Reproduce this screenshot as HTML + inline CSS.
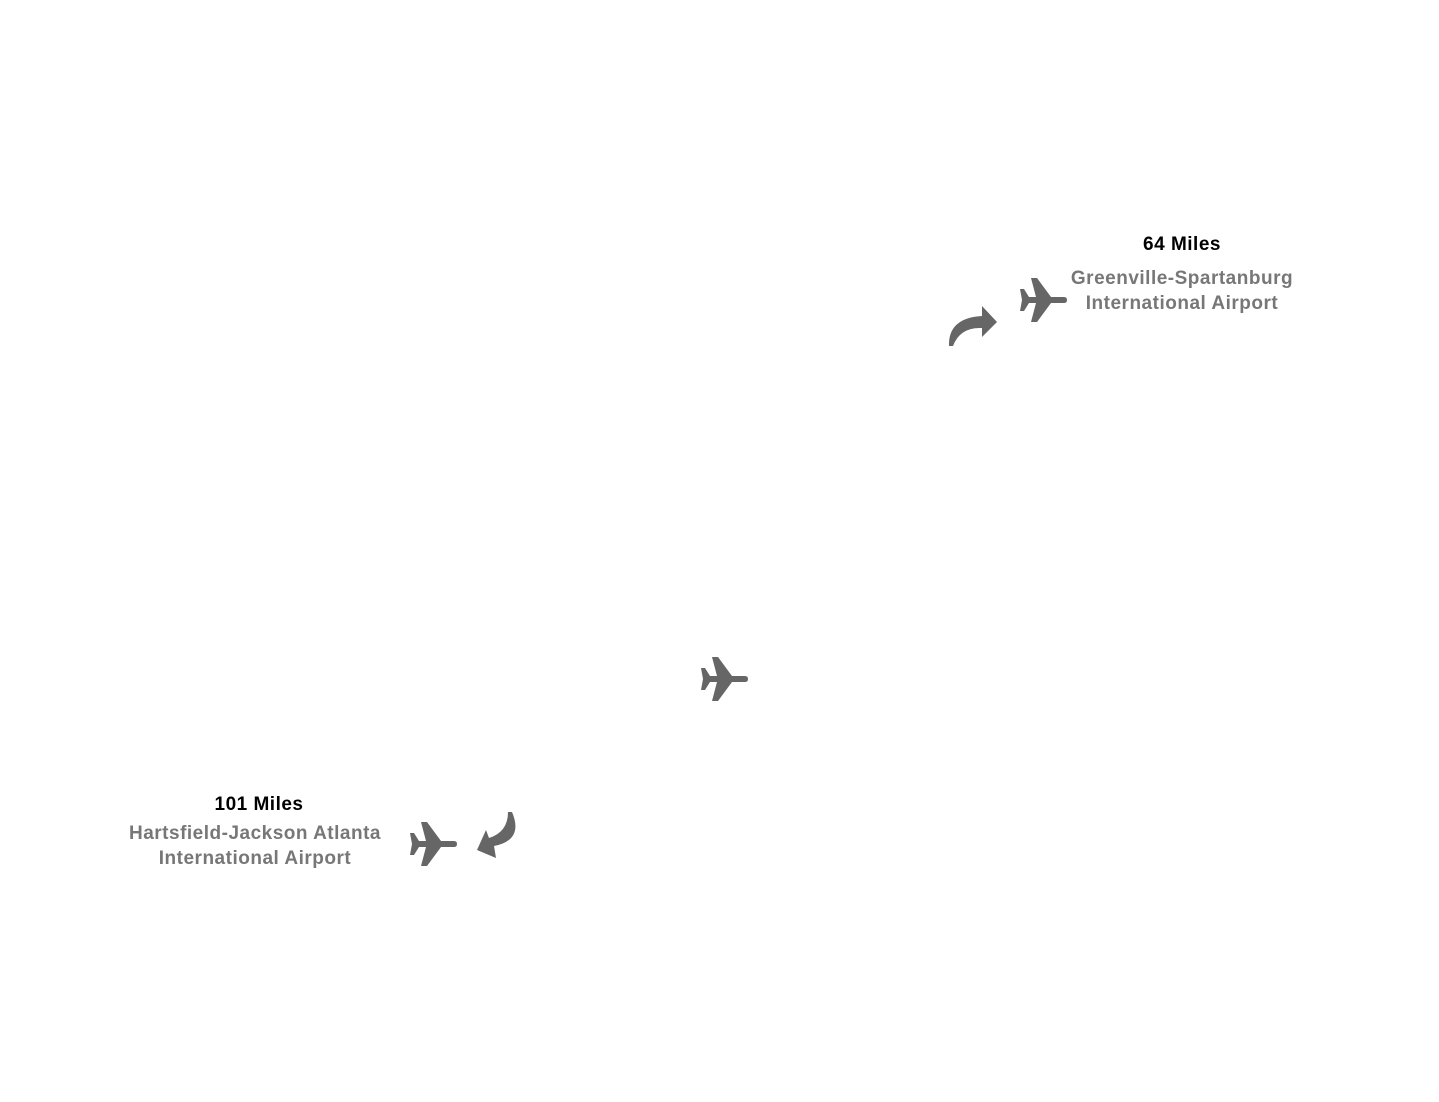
<!DOCTYPE html>
<html><head><style>
body{margin:0;background:#fff;width:1439px;height:1102px;overflow:hidden;position:relative;font-family:"Liberation Sans",sans-serif}
.t{position:absolute;font-size:19px;font-weight:bold;text-align:center;line-height:25px;white-space:nowrap;letter-spacing:0.5px}
.b{color:#000}.g{color:#777}
</style></head><body>
<svg width="1439" height="1102" style="position:absolute;left:0;top:0">
<defs>
<g id="pl" fill="#666">
<path d="M0,11 L4,11 L9,19 L16,19 L11,0 L17,0 L31,19 L44,19 Q47,19 47,22 Q47,25 44,25 L31,25 L17,44 L11,44 L16,25 L9,25 L4,33 L0,33 L2,22 Z"/>
</g>
</defs>
<use href="#pl" x="1020" y="278"/>
<use href="#pl" x="701" y="657"/>
<use href="#pl" x="410" y="822"/>
<path d="M949,346 Q948,318 982,316 L982,306 L997,322 L982,337 L982,328 Q960,327 953,346 Z" fill="#666"/>
<path d="M512,812 Q524,840 494,846 L496,858 L477,850 L486,830 L489,838 Q508,832 508,812 Z" fill="#666"/>
</svg>
<div class="t b" style="left:1082px;width:200px;top:232px">64 Miles</div>
<div style="position:absolute;left:1060px;top:266px;width:234px;height:60px;overflow:hidden">
<div class="t g" style="left:-8px;width:260px;top:0">Greenville-Spartanburg<br>International Airport</div></div>
<div class="t b" style="left:159px;width:200px;top:792px">101 Miles</div>
<div class="t g" style="left:105px;width:300px;top:821px">Hartsfield-Jackson Atlanta<br>International Airport</div>
</body></html>
